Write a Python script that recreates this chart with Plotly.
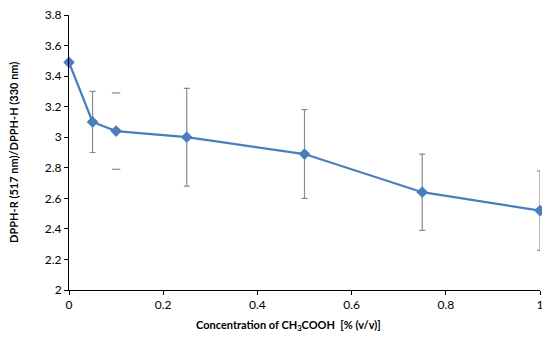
import plotly.graph_objects as go

conc = [0, 0.05, 0.1, 0.25, 0.5, 0.75, 1]
ratio = [3.49, 3.10, 3.04, 3.00, 2.89, 2.64, 2.52]
err = [0, 0.20, 0, 0.32, 0.29, 0.25, 0.26]
# point with caps only (no visible stem)
cap_x = [0.1]
cap_center = [3.04]
cap_err = [0.25]

x_ticks = [0, 0.2, 0.4, 0.6, 0.8, 1]
x_ticklabels = ["0", "0.2", "0.4", "0.6", "0.8", "1"]
y_ticks = [2, 2.2, 2.4, 2.6, 2.8, 3, 3.2, 3.4, 3.6, 3.8]
y_ticklabels = ["2", "2.2", "2.4", "2.6", "2.8", "3", "3.2", "3.4", "3.6", "3.8"]

blue = "#4a7ebb"
grey = "#8c8c8c"
font = "Lato, Open Sans, Liberation Sans, sans-serif"

fig = go.Figure()
fig.add_trace(go.Scatter(
    x=conc, y=ratio, mode="lines+markers",
    line=dict(color=blue, width=2.25),
    marker=dict(symbol="diamond", size=9, color=blue),
    error_y=dict(type="data", array=err, visible=True, color=grey, thickness=1.2, width=3),
    cliponaxis=False, showlegend=False,
))
cap_y = [c + e for c, e in zip(cap_center, cap_err)] + [c - e for c, e in zip(cap_center, cap_err)]
fig.add_trace(go.Scatter(
    x=cap_x * 2, y=cap_y, mode="markers",
    marker=dict(symbol="line-ew", size=6, line=dict(color=grey, width=1.2)),
    cliponaxis=False, showlegend=False,
))

fig.update_layout(
    width=542, height=330,
    margin=dict(l=61, r=10, t=7, b=48, autoexpand=False),
    paper_bgcolor="white", plot_bgcolor="white",
    font=dict(family=font, size=12, color="#000"),
    xaxis=dict(range=[0, 1], tickvals=x_ticks, ticktext=x_ticklabels,
               showgrid=False, zeroline=False, showline=True, linecolor="#000", linewidth=1,
               ticks="outside", ticklen=4, tickcolor="#000", ticklabeloverflow="allow"),
    yaxis=dict(range=[2, 3.8], tickvals=y_ticks, ticktext=y_ticklabels,
               showgrid=False, zeroline=False, showline=True, linecolor="#000", linewidth=1,
               ticks="outside", ticklen=4, tickcolor="#000", ticklabeloverflow="allow"),
    annotations=[
        dict(text="<b>Concentration of CH<sub>3</sub>COOH  [% (v/v)]</b>", xref="paper", yref="paper",
             x=0.467, y=-0.13, xanchor="center", yanchor="middle", showarrow=False,
             font=dict(family=font, size=11)),
        dict(text="<b>DPPH-R (517 nm)/DPPH-H (330 nm)</b>", xref="paper", yref="paper",
             x=-0.118, y=0.5, textangle=-90, xanchor="center", yanchor="middle",
             showarrow=False, font=dict(family=font, size=11)),
    ],
)
fig.write_html("out.html")
